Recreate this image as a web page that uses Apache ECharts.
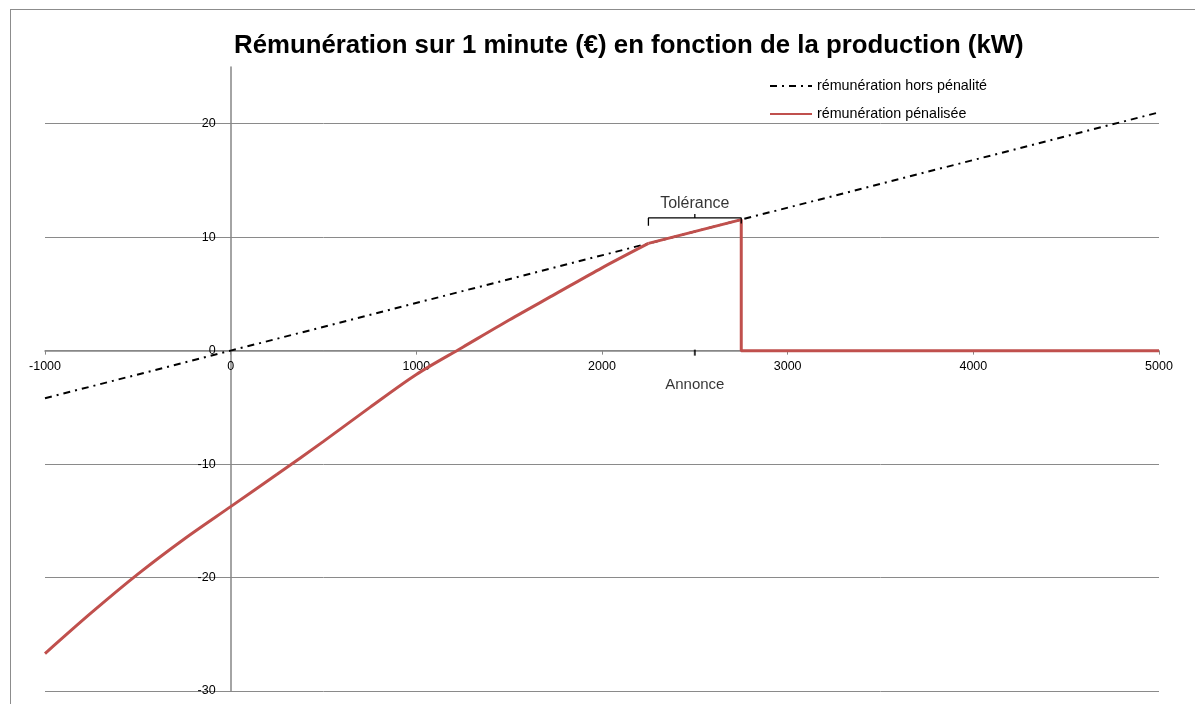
<!DOCTYPE html>
<html>
<head>
<meta charset="utf-8">
<script src="https://cdn.jsdelivr.net/npm/echarts@6/dist/echarts.min.js"></script>
<style>
  html, body { margin: 0; padding: 0; overflow: hidden; background: #fff; }
  #chart { position: absolute; left: 0; top: 0; width: 1195px; height: 704px; }
  #frame { position: absolute; left: 10px; top: 9px; width: 1300px; height: 800px;
           border: 1px solid #8c8c8c; pointer-events: none; }
</style>
</head>
<body>
<div id="chart"></div>
<div id="frame"></div>
<script>
// production (kW) / rémunération (€)
const xHorsPenalite = [-1000, 0, 2250, 2750, 5000];
const yHorsPenalite = [-4.2, 0, 9.45, 11.55, 21.0];

// partie courbe (avant la tolérance)
const xPenaliseeCourbe = [-1000, -750, -500, -250, 0, 250, 500, 750, 1000, 1250, 1500, 1750, 2000, 2250];
const yPenaliseeCourbe = [-26.7, -23.1, -19.7, -16.6, -13.75, -10.9, -8.0, -5.0, -2.1, 0.3, 2.7, 5.0, 7.3, 9.45];
// partie droite (tolérance puis chute à 0)
const xPenaliseeFin = [2250, 2750, 2750, 5000];
const yPenaliseeFin = [9.45, 11.55, 0, 0];

// accolade "Tolérance"
const xTolerance = [2250, 2250, 2500, 2500, 2500, 2750, 2750];
const yTolerance = [11.0, 11.7, 11.7, 12.05, 11.7, 11.7, 11.2];

const annonce = [2500, 0];
const yTicks = [-30, -20, -10, 0, 10, 20];

const xMin = -1000, xMax = 5000, yMin = -30, yMax = 25;
const font = 'Liberation Sans';
const red = '#C0504D';
const zip = (xs, ys) => xs.map((x, i) => [x, ys[i]]);

// grid, axes crossing at 0 (like excel)
const W = 1195, H = 704;
const gLeft = 45, gRight = 36, gTop = 67, gBottom = 13;
const yAxisShift = (W - gLeft - gRight) * (0 - xMin) / (xMax - xMin);
const xAxisShift = (H - gTop - gBottom) * (0 - yMin) / (yMax - yMin);

var chart = echarts.init(document.getElementById('chart'));

chart.setOption({
    animation: false,
    title: {
        text: 'Rémunération sur 1 minute (€) en fonction de la production (kW)',
        left: 229,
        top: 28,
        textStyle: { fontFamily: font, fontSize: 25.8, fontWeight: 'bold', color: '#000' }
    },
    legend: {
        orient: 'vertical',
        left: 764,
        top: 74,
        itemWidth: 42,
        itemHeight: 14,
        itemGap: 14,
        data: ['rémunération hors pénalité', 'rémunération pénalisée'],
        itemStyle: { color: 'rgba(0,0,0,0)', borderWidth: 0 },
        textStyle: { fontFamily: font, fontSize: 14.3, color: '#000' }
    },
    grid: { left: gLeft, right: gRight, top: gTop, bottom: gBottom },
    xAxis: {
        type: 'value',
        min: xMin,
        max: xMax,
        interval: 1000,
        offset: -xAxisShift,
        axisLine: { onZero: false, lineStyle: { color: '#868686', width: 1.5 } },
        axisTick: { show: true, length: 4, lineStyle: { color: '#868686' } },
        axisLabel: { fontFamily: font, fontSize: 12.5, color: '#000', margin: 9, formatter: v => String(v) },
        splitLine: { show: false }
    },
    yAxis: {
        type: 'value',
        min: yMin,
        max: yMax,
        interval: 10,
        offset: -yAxisShift,
        axisLine: { show: true, onZero: false, lineStyle: { color: '#868686', width: 1.5 } },
        axisTick: { show: false },
        axisLabel: {
            fontFamily: font, fontSize: 12.5, color: '#000', margin: 15,
            showMaxLabel: false,
            formatter: v => (yTicks.indexOf(v) >= 0 ? String(v) : '')
        },
        splitLine: {
            show: true,
            lineStyle: {
                color: yTicks.map(() => '#8a8a8a').concat(['rgba(0,0,0,0)']),
                width: 1
            }
        }
    },
    series: [
        {
            name: 'rémunération hors pénalité',
            type: 'line',
            data: zip(xHorsPenalite, yHorsPenalite),
            symbol: 'none',
            color: '#000',
            lineStyle: { color: '#000', width: 2, type: [7, 5, 2, 5] },
            z: 3
        },
        {
            name: 'rémunération pénalisée',
            type: 'line',
            data: zip(xPenaliseeCourbe, yPenaliseeCourbe),
            symbol: 'none',
            smooth: 0.3,
            color: red,
            lineStyle: { color: red, width: 3 },
            z: 4
        },
        {
            name: 'rémunération pénalisée',
            type: 'line',
            data: zip(xPenaliseeFin, yPenaliseeFin),
            symbol: 'none',
            color: red,
            lineStyle: { color: red, width: 3 },
            z: 4
        },
        {
            name: 'tolerance',
            type: 'line',
            data: zip(xTolerance, yTolerance),
            symbol: 'none',
            silent: true,
            lineStyle: { color: '#000', width: 1.3 },
            z: 5
        },
        {
            name: 'tolerance-label',
            type: 'scatter',
            data: [[xTolerance[3], yTolerance[3]]],
            symbolSize: 0,
            silent: true,
            label: {
                show: true, position: 'top', distance: 2,
                formatter: 'Tolérance',
                fontFamily: font, fontSize: 16, color: '#000'
            }
        },
        {
            name: 'annonce',
            type: 'scatter',
            data: [annonce],
            symbol: 'rect',
            symbolSize: [2, 6],
            symbolOffset: [0, 2],
            itemStyle: { color: '#000' },
            silent: true,
            label: {
                show: true, position: 'bottom', distance: 22,
                formatter: 'Annonce',
                fontFamily: font, fontSize: 15, color: '#000'
            },
            z: 6
        }
    ]
});
</script>
</body>
</html>
